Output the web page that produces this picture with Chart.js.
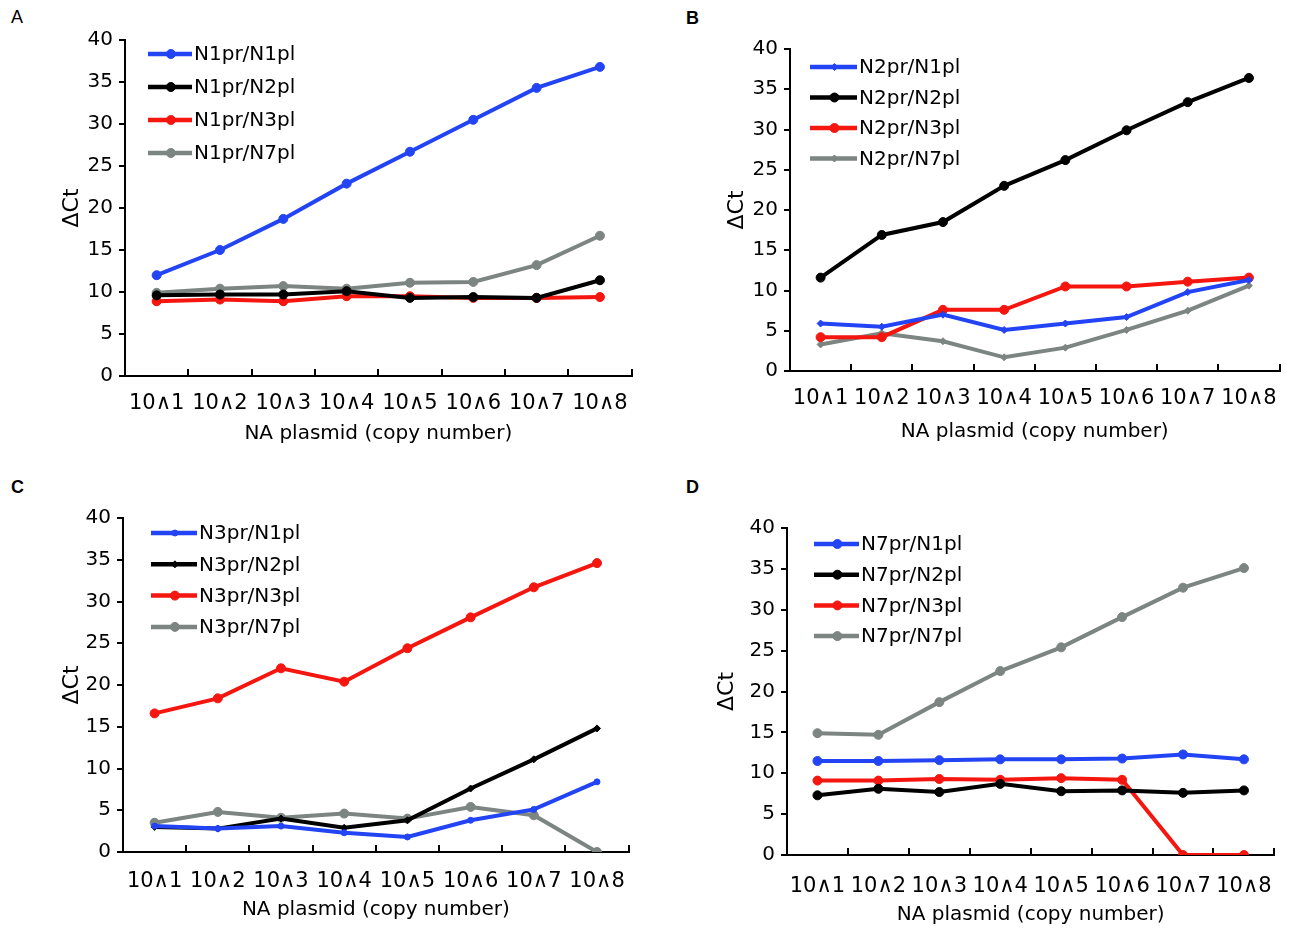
<!DOCTYPE html>
<html>
<head>
<meta charset="utf-8">
<script src="https://cdn.jsdelivr.net/npm/chart.js@4.4.1/dist/chart.umd.min.js"></script>
<style>
  body { margin: 0; background: #fff; width: 1299px; height: 932px; position: relative; overflow: hidden; font-family: "Liberation Sans", Arial, sans-serif; }
  .panel { position: absolute; }
  .tag { position: absolute; font-size: 18px; color: #000; }
</style>
</head>
<body>
<div class="tag" style="left:11px;top:7px;">A</div>
<div class="tag" style="left:686px;top:8px;font-weight:bold;">B</div>
<div class="tag" style="left:11px;top:477px;font-weight:bold;">C</div>
<div class="tag" style="left:686px;top:477px;font-weight:bold;">D</div>

<div class="panel" style="left:0;top:0;width:650px;height:460px;"><canvas id="chartA"></canvas></div>
<div class="panel" style="left:650px;top:0;width:649px;height:460px;"><canvas id="chartB"></canvas></div>
<div class="panel" style="left:0;top:470px;width:650px;height:462px;"><canvas id="chartC"></canvas></div>
<div class="panel" style="left:650px;top:470px;width:649px;height:462px;"><canvas id="chartD"></canvas></div>

<script>
// categorias e series (ΔCt)
const categories = ['10∧1', '10∧2', '10∧3', '10∧4', '10∧5', '10∧6', '10∧7', '10∧8'];

const namesA = ['N1pr/N1pl', 'N1pr/N2pl', 'N1pr/N3pl', 'N1pr/N7pl'];
const a_N1pl = [12.0, 15.0, 18.7, 22.9, 26.7, 30.5, 34.3, 36.8];
const a_N2pl = [9.6, 9.7, 9.7, 10.1, 9.3, 9.4, 9.3, 11.4];
const a_N3pl = [8.9, 9.1, 8.9, 9.5, 9.5, 9.3, 9.3, 9.4];
const a_N7pl = [9.9, 10.4, 10.7, 10.4, 11.1, 11.2, 13.2, 16.7];

const namesB = ['N2pr/N1pl', 'N2pr/N2pl', 'N2pr/N3pl', 'N2pr/N7pl'];
const b_N1pl = [5.9, 5.5, 7.0, 5.1, 5.9, 6.7, 9.8, 11.3];
const b_N2pl = [11.6, 16.9, 18.5, 23.0, 26.2, 29.9, 33.4, 36.4];
const b_N3pl = [4.2, 4.2, 7.6, 7.6, 10.5, 10.5, 11.1, 11.6];
const b_N7pl = [3.3, 4.7, 3.7, 1.7, 2.9, 5.1, 7.5, 10.6];

const namesC = ['N3pr/N1pl', 'N3pr/N2pl', 'N3pr/N3pl', 'N3pr/N7pl'];
const c_N1pl = [3.1, 2.8, 3.1, 2.3, 1.8, 3.8, 5.1, 8.4];
const c_N2pl = [3.0, 2.8, 4.0, 2.9, 3.8, 7.6, 11.1, 14.8];
const c_N3pl = [16.6, 18.4, 22.0, 20.4, 24.4, 28.1, 31.7, 34.6];
const c_N7pl = [3.5, 4.8, 4.1, 4.6, 4.0, 5.4, 4.4, 0];

const namesD = ['N7pr/N1pl', 'N7pr/N2pl', 'N7pr/N3pl', 'N7pr/N7pl'];
const d_N1pl = [11.5, 11.5, 11.6, 11.7, 11.7, 11.8, 12.3, 11.7];
const d_N2pl = [7.3, 8.1, 7.7, 8.7, 7.8, 7.9, 7.6, 7.9];
const d_N3pl = [9.1, 9.1, 9.3, 9.2, 9.4, 9.2, 0, 0];
const d_N7pl = [14.9, 14.7, 18.7, 22.5, 25.4, 29.1, 32.7, 35.1];

const BLUE = '#2244f4';
const BLACK = '#000000';
const RED = '#f4160f';
const GRAY = '#7c8581';
const FONT = '"DejaVu Sans", "Liberation Sans", Arial, sans-serif';

function serie(label, data, color, style, radius) {
    return {
        label: label,
        data: data,
        borderColor: color,
        backgroundColor: color,
        borderWidth: 4,
        pointStyle: style || 'circle',
        pointRadius: radius || 4.5,
        pointBorderWidth: 1,
        tension: 0
    };
}

// legenda dentro da area do grafico
const legendaInterna = {
    id: 'legendaInterna',
    afterDatasetsDraw(chart, args, opts) {
        const { ctx, chartArea } = chart;
        ctx.save();
        ctx.font = '20px ' + FONT;
        ctx.textBaseline = 'middle';
        chart.data.datasets.forEach((ds, i) => {
            const x = chartArea.left + opts.x;
            const y = chartArea.top + opts.y + i * opts.gap;
            ctx.strokeStyle = ds.borderColor;
            ctx.fillStyle = ds.borderColor;
            ctx.lineWidth = 4.5;
            ctx.beginPath();
            ctx.moveTo(x, y);
            ctx.lineTo(x + opts.len, y);
            ctx.stroke();
            ctx.lineWidth = 1;
            Chart.helpers.drawPoint(ctx, { pointStyle: ds.pointStyle, radius: ds.pointRadius, borderWidth: 1, rotation: 0 }, x + opts.len * 0.52, y);
            ctx.fillStyle = '#000';
            ctx.fillText(ds.label, x + opts.len + 2, y + 1);
        });
        ctx.restore();
    }
};

function makeChart(id, datasets, cfg) {
    const ctx = document.getElementById(id).getContext('2d');
    return new Chart(ctx, {
        type: 'line',
        data: { labels: categories, datasets: datasets },
        plugins: [legendaInterna],
        options: {
            responsive: true,
            maintainAspectRatio: false,
            animation: false,
            layout: { padding: { top: cfg.top, right: cfg.right, left: 0, bottom: 0 } },
            plugins: {
                legend: { display: false },
                tooltip: { enabled: false },
                legendaInterna: cfg.legend
            },
            scales: {
                x: {
                    offset: true,
                    afterFit: s => { s.height = cfg.xh; },
                    border: { color: '#000', width: 2 },
                    grid: { offset: true, drawOnChartArea: false, color: '#000', lineWidth: 2, tickLength: -7 },
                    ticks: { color: '#000', font: { family: FONT, size: 21 }, padding: cfg.xpad, autoSkip: false, maxRotation: 0 },
                    title: { display: true, text: 'NA plasmid (copy number)', color: '#000', font: { family: FONT, size: 20 }, padding: { bottom: cfg.xtitle } }
                },
                y: {
                    min: 0,
                    max: 40,
                    afterFit: s => { s.width = cfg.yw; },
                    border: { color: '#000', width: 2 },
                    grid: { drawOnChartArea: false, color: '#000', lineWidth: 2, tickLength: 6 },
                    ticks: { stepSize: 5, color: '#000', font: { family: FONT, size: 20 }, padding: 6 },
                    title: { display: true, text: 'ΔCt', color: '#000', font: { family: FONT, size: 22 }, padding: { top: cfg.ytitle } }
                }
            }
        }
    });
}

makeChart('chartA', [
    serie(namesA[0], a_N1pl, BLUE),
    serie(namesA[1], a_N2pl, BLACK),
    serie(namesA[2], a_N3pl, RED),
    serie(namesA[3], a_N7pl, GRAY)
], { top: 40, right: 5, yw: 125, xh: 84, xpad: 22, xtitle: 14, ytitle: 59, legend: { x: 23, y: 14, gap: 33, len: 44 } });

makeChart('chartB', [
    serie(namesB[0], b_N1pl, BLUE, 'rectRot', 3.5),
    serie(namesB[1], b_N2pl, BLACK),
    serie(namesB[2], b_N3pl, RED),
    serie(namesB[3], b_N7pl, GRAY, 'rectRot', 3.5)
], { top: 49, right: 5, yw: 140, xh: 89, xpad: 22, xtitle: 16, ytitle: 74, legend: { x: 20, y: 18, gap: 30.5, len: 47 } });

makeChart('chartC', [
    serie(namesC[0], c_N1pl, BLUE, 'circle', 3),
    serie(namesC[1], c_N2pl, BLACK, 'rectRot', 3.5),
    serie(namesC[2], c_N3pl, RED),
    serie(namesC[3], c_N7pl, GRAY)
], { top: 48, right: 20, yw: 123, xh: 80, xpad: 24, xtitle: 10, ytitle: 59, legend: { x: 28, y: 15, gap: 31.3, len: 46 } });

makeChart('chartD', [
    serie(namesD[0], d_N1pl, BLUE),
    serie(namesD[1], d_N2pl, BLACK),
    serie(namesD[2], d_N3pl, RED),
    serie(namesD[3], d_N7pl, GRAY)
], { top: 58, right: 21, yw: 137, xh: 77, xpad: 26, xtitle: 5, ytitle: 64, legend: { x: 27, y: 16, gap: 30.7, len: 45 } });
</script>
</body>
</html>
